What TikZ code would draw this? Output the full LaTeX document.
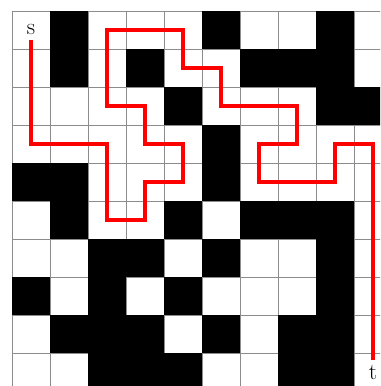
\documentclass[tikz,border=0pt]{standalone}
\usepackage{tikz}
\usetikzlibrary{calc}

\begin{document}
\begin{tikzpicture}[
    x=1cm, y=1cm,
    % --- styles ---
    gridline/.style = {draw=black!45, line width=0.5pt},
    blocked/.style  = {fill=black},
    route/.style    = {draw=red, line width=2.5pt},
    endlbl/.style   = {font=\LARGE, inner sep=3.5pt},
]

%============ FRAME ============
\useasboundingbox (-0.316,0.289) rectangle (9.684,-9.868);
\clip (-0.316,0.289) rectangle (9.684,-9.868);

%============ GRID ============
\draw[gridline] (0,0) grid (10,-10);

% cell centres, c-<col>-<row>
\foreach \c in {0,...,9}
  \foreach \r in {0,...,9}
    \coordinate (c-\c-\r) at (\c+0.5,-\r-0.5);

%============ BLOCKED CELLS ============
\foreach \c/\r in {
  1/0, 5/0, 8/0,
  1/1, 3/1, 6/1, 7/1, 8/1,
  4/2, 8/2, 9/2,
  5/3,
  0/4, 1/4, 5/4,
  1/5, 4/5, 6/5, 7/5, 8/5,
  2/6, 3/6, 5/6, 8/6,
  0/7, 2/7, 4/7, 8/7,
  1/8, 2/8, 3/8, 5/8, 7/8, 8/8,
  2/9, 3/9, 4/9, 7/9, 8/9}
  \fill[blocked] (\c,-\r) rectangle ++(1,-1);

%============ END POINTS ============
\node (s) [endlbl] at (c-0-0) {s};
\node (t) [endlbl] at (c-9-9) {t};

%============ PATH ============
\draw[route] (s) |- (c-2-3) |- (c-3-5) |- (c-4-4) |- (c-3-3)
  |- (c-2-2) |- (c-4-0) |- (c-5-1) |- (c-7-2) |- (c-6-3)
  |- (c-8-4) |- (c-9-3) -- (t);

\end{tikzpicture}
\end{document}
